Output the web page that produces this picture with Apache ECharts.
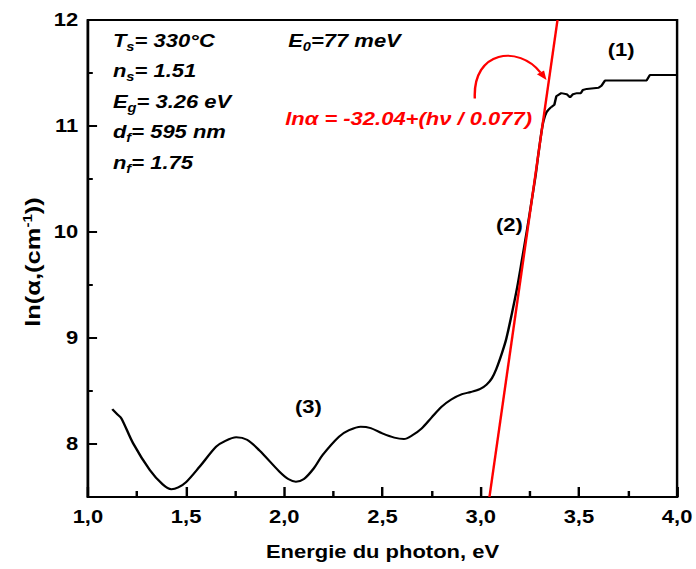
<!DOCTYPE html>
<html>
<head>
<meta charset="utf-8">
<script src="https://cdn.jsdelivr.net/npm/echarts@6/dist/echarts.min.js"></script>
<style>
  html, body { margin: 0; padding: 0; background: #fff; overflow: hidden; }
  /* the figure is drawn in a narrower frame and widened to the page width */
  #chart { width: 570px; height: 569px; transform: scaleX(1.2211); transform-origin: 0 0; }
</style>
</head>
<body>
<div id="chart"></div>
<script>
// Photon energy (eV) and absorption coefficient ln(alpha), alpha in cm^-1
const energy = [
  1.124, 1.150, 1.171, 1.23, 1.315, 1.38, 1.425, 1.46, 1.50, 1.569,
  1.653, 1.70, 1.755, 1.81, 1.873, 1.975, 2.02, 2.059, 2.10, 2.15,
  2.195, 2.279, 2.33, 2.389, 2.44, 2.499, 2.56, 2.609, 2.65, 2.70,
  2.75, 2.80, 2.85, 2.905, 2.95, 2.998, 3.03, 3.057, 3.08, 3.108,
  3.13, 3.159, 3.185, 3.21, 3.235, 3.26, 3.28, 3.294, 3.31, 3.32,
  3.335, 3.36, 3.375, 3.385, 3.41, 3.438, 3.455, 3.47, 3.49, 3.51,
  3.52, 3.54, 3.60, 3.615, 3.633, 3.845, 3.861, 4.0
];
const lnAlpha = [
  8.33, 8.28, 8.24, 8.007, 7.755, 7.62, 7.573, 7.59, 7.64, 7.786,
  7.975, 8.03, 8.063, 8.04, 7.94, 7.74, 7.67, 7.645, 7.67, 7.77,
  7.896, 8.07, 8.13, 8.163, 8.15, 8.10, 8.06, 8.047, 8.08, 8.148,
  8.25, 8.35, 8.42, 8.47, 8.49, 8.52, 8.56, 8.62, 8.71, 8.856,
  8.99, 9.233, 9.47, 9.736, 10.01, 10.30, 10.54, 10.74, 10.95, 11.05,
  11.13, 11.18, 11.20, 11.28, 11.31, 11.30, 11.27, 11.30, 11.31, 11.31,
  11.34, 11.35, 11.36, 11.38, 11.43, 11.43, 11.48, 11.48
];
// the saturated plateau above this energy is drawn without smoothing
const plateauStart = 3.36;

// Urbach tail fit: ln(alpha) = intercept + E / E0
const fitIntercept = -32.04;
const fitE0 = 0.077;

// Axis ranges and tick positions
const xRange = [1.0, 4.0];
const yRange = [7.5, 12];
const yMajorTicks = [8, 9, 10, 11, 12];
const yMinorTicks = [8.5, 9.5, 10.5, 11.5];

const points = energy.map((e, i) => [e, lnAlpha[i]]);
const edgeData = points.filter(p => p[0] <= plateauStart);
const plateauData = points.filter(p => p[0] >= plateauStart);

// Fit line end points where it meets the bottom and top of the plot
const fitLine = [yRange[0], yRange[1]].map(y => [(y - fitIntercept) * fitE0, y]);

const FONT = '"Liberation Sans", Arial, sans-serif';
const chart = echarts.init(document.getElementById('chart'), null, { renderer: 'svg' });

const mainStyle = { fontSize: 18, fontWeight: 'bold', fontStyle: 'italic', fontFamily: FONT, color: '#000' };
const subStyle = { fontSize: 12, fontWeight: 'bold', fontStyle: 'italic', fontFamily: FONT, color: '#000', padding: [12, 0, 0, 0] };

function label(left, top, text) {
  return {
    type: 'text', left: left, top: top, z: 10,
    style: { text: text, fontSize: 18, fontFamily: FONT, fill: '#000', rich: { m: mainStyle, s: subStyle } }
  };
}
function tag(x, y, text) {
  return {
    type: 'text', x: x, y: y, z: 10,
    style: { text: text, x: 0, y: 0, align: 'center', verticalAlign: 'middle',
      fontSize: 18, fontWeight: 'bold', fontFamily: FONT, fill: '#000' }
  };
}

const axisText = { fontSize: 18, fontWeight: 'bold', fontFamily: FONT, color: '#000' };

chart.setOption({
  animation: false,
  grid: { left: 72, right: 14, top: 20, bottom: 72, show: true, borderColor: '#000', borderWidth: 2, backgroundColor: '#fff' },
  xAxis: {
    type: 'value', min: xRange[0], max: xRange[1], interval: 0.5,
    name: 'Energie du photon, eV', nameLocation: 'middle', nameGap: 46,
    nameTextStyle: axisText,
    axisLine: { lineStyle: { color: '#000', width: 2 } },
    axisTick: { inside: true, length: 10, lineStyle: { color: '#000', width: 2 } },
    minorTick: { show: true, splitNumber: 2, length: 6, lineStyle: { color: '#000', width: 2 } },
    axisLabel: Object.assign({ margin: 11, formatter: v => v.toFixed(1).replace('.', ',') }, axisText),
    splitLine: { show: false }
  },
  yAxis: [{
    type: 'value', min: yRange[0], max: yRange[1], position: 'left',
    axisLine: { lineStyle: { color: '#000', width: 2 } },
    axisTick: { inside: true, length: 7.5, customValues: yMajorTicks, lineStyle: { color: '#000', width: 2 } },
    axisLabel: Object.assign({ margin: 8, customValues: yMajorTicks }, axisText),
    splitLine: { show: false }
  }, {
    type: 'value', min: yRange[0], max: yRange[1], position: 'left',
    axisLine: { show: false },
    axisTick: { inside: true, length: 4, customValues: yMinorTicks, lineStyle: { color: '#000', width: 2 } },
    axisLabel: { show: false },
    splitLine: { show: false }
  }],
  series: [{
    type: 'line', name: 'absorption edge', data: edgeData,
    showSymbol: false, smooth: 0.3, lineStyle: { color: '#000', width: 2 }, z: 3
  }, {
    type: 'line', name: 'plateau', data: plateauData,
    showSymbol: false, lineStyle: { color: '#000', width: 2 }, z: 3
  }, {
    type: 'line', name: 'fit', data: fitLine,
    showSymbol: false, lineStyle: { color: '#ff0000', width: 2 }, z: 4
  }]
});

// Curved arrow from the fit equation to the fit line (data coordinates)
const arrowPts = [[2.970, 11.26], [2.959, 11.717], [3.193, 11.764], [3.335, 11.434]]
  .map(p => chart.convertToPixel({ gridIndex: 0 }, p));
const [p0, c1, c2, p3] = arrowPts;
const dx = p3[0] - c2[0], dy = p3[1] - c2[1];
const len = Math.hypot(dx, dy), ux = dx / len, uy = dy / len;
const headL = 9, headW = 3.5;
const base = [p3[0] - ux * headL, p3[1] - uy * headL];

chart.setOption({
  graphic: [
    { type: 'bezierCurve', z: 10,
      shape: { x1: p0[0], y1: p0[1], cpx1: c1[0], cpy1: c1[1], cpx2: c2[0], cpy2: c2[1], x2: base[0], y2: base[1] },
      style: { stroke: '#ff0000', lineWidth: 2, fill: null } },
    { type: 'polygon', z: 10,
      shape: { points: [p3, [base[0] - uy * headW, base[1] + ux * headW], [base[0] + uy * headW, base[1] - ux * headW]] },
      style: { fill: '#ff0000' } },
    // y-axis title, written bottom to top
    { type: 'text', x: 27, y: 262, rotation: Math.PI / 2, scaleX: 1.5, z: 10,
      style: { text: 'ln(α,(cm{sup|-1}))', x: 0, y: 0, align: 'center', verticalAlign: 'middle',
        fontSize: 17, fontWeight: 'bold', fontFamily: FONT, fill: '#000',
        rich: { sup: { fontSize: 10, fontWeight: 'bold', fontFamily: FONT, color: '#000', padding: [0, 0, 9, 0] } } } },
    label(92.5, 31.5, '{m|T}{s|s}{m|= 330°C}'),
    label(92.5, 61.5, '{m|n}{s|s}{m|= 1.51}'),
    label(92.5, 92.5, '{m|E}{s|g}{m|= 3.26 eV}'),
    label(92.5, 122.5, '{m|d}{s|f}{m|= 595 nm}'),
    label(92.5, 153.5, '{m|n}{s|f}{m|= 1.75}'),
    label(236, 32, '{m|E}{s|0}{m|=77 meV}'),
    { type: 'text', left: 233.5, top: 110, z: 10,
      style: { text: 'lnα = -32.04+(hν / 0.077)', fontSize: 18, fontWeight: 'bold', fontStyle: 'italic', fontFamily: FONT, fill: '#ff0000' } },
    tag(508.6, 50, '(1)'),
    tag(417.2, 225, '(2)'),
    tag(252.6, 407, '(3)')
  ]
});
</script>
</body>
</html>
